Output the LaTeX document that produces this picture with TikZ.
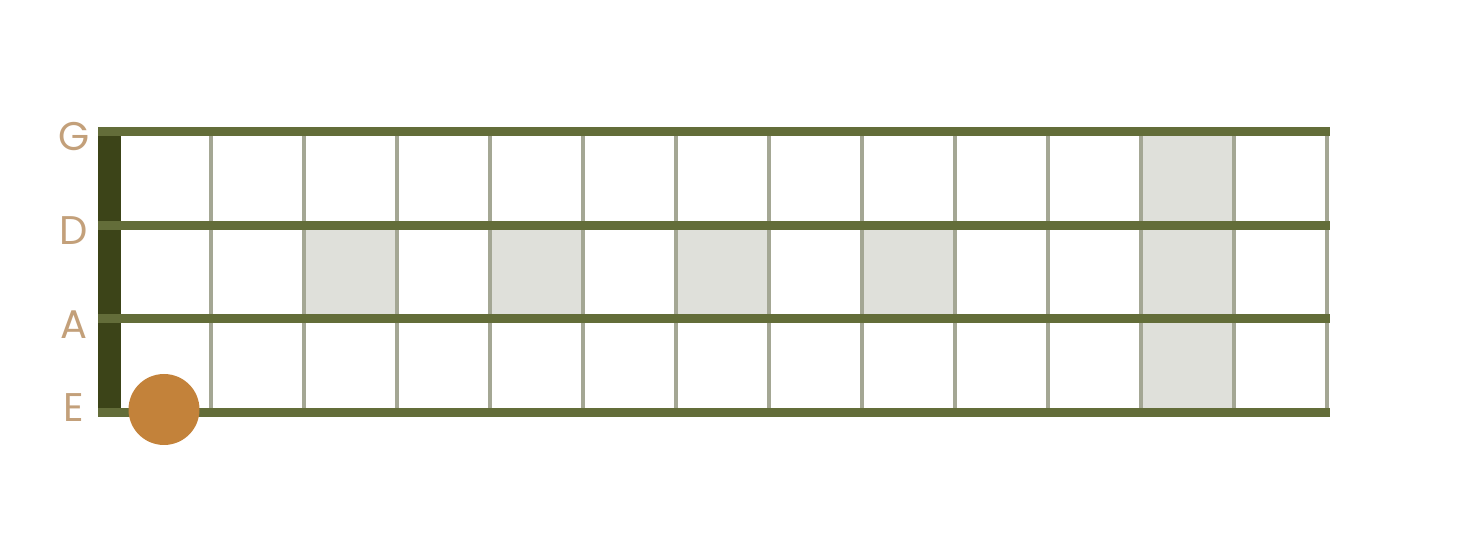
\documentclass[tikz,border=0pt]{standalone}
\usepackage{fontspec}
\setmainfont{Poppins}
\definecolor{stringgreen}{HTML}{636D39}
\definecolor{nutgreen}{HTML}{3C4418}
\definecolor{fretgrey}{HTML}{A4A794}
\definecolor{cellgrey}{HTML}{DFE0DA}
\definecolor{dotorange}{HTML}{C3823A}
\definecolor{namebrown}{HTML}{C3A07A}
\tikzset{
	stringline/.style={draw=stringgreen,line width=4.5pt},
	fretline/.style={draw=fretgrey,line width=2.3pt},
	stringname/.style={text=namebrown,inner sep=0,outer sep=0,font=\fontsize{20}{24}\selectfont},
}

\begin{document}
\begin{tikzpicture}[x=0.5pt,y=-0.5pt]
	\useasboundingbox (0,0) rectangle (1469,549);
	% marked cells
	\foreach \c in {2,4,6,8}
		\fill[cellgrey] ({118+93*\c},225.5) rectangle ({118+93*(\c+1)},319);
	\fill[cellgrey] (1141,132) rectangle (1234,412.5);
	% frets
	\foreach \f in {1,...,13}
		\draw[fretline] ({118+93*\f},132) -- ({118+93*\f},412.5);
	% nut
	\fill[nutgreen] (98,132) rectangle (121,412.5);
	% strings
	\foreach \s/\y/\ly in {G/132/137,D/225.5/231,A/319/325,E/412.5/408} {
		\draw[stringline] (98,\y) -- (1330,\y);
		\node[stringname] (\s) at (74,\ly) {\s};
	}
	\node[circle,fill=dotorange,inner sep=0,outer sep=0,minimum size=35.5pt] (root) at (164,409.5) {};
\end{tikzpicture}
\end{document}
